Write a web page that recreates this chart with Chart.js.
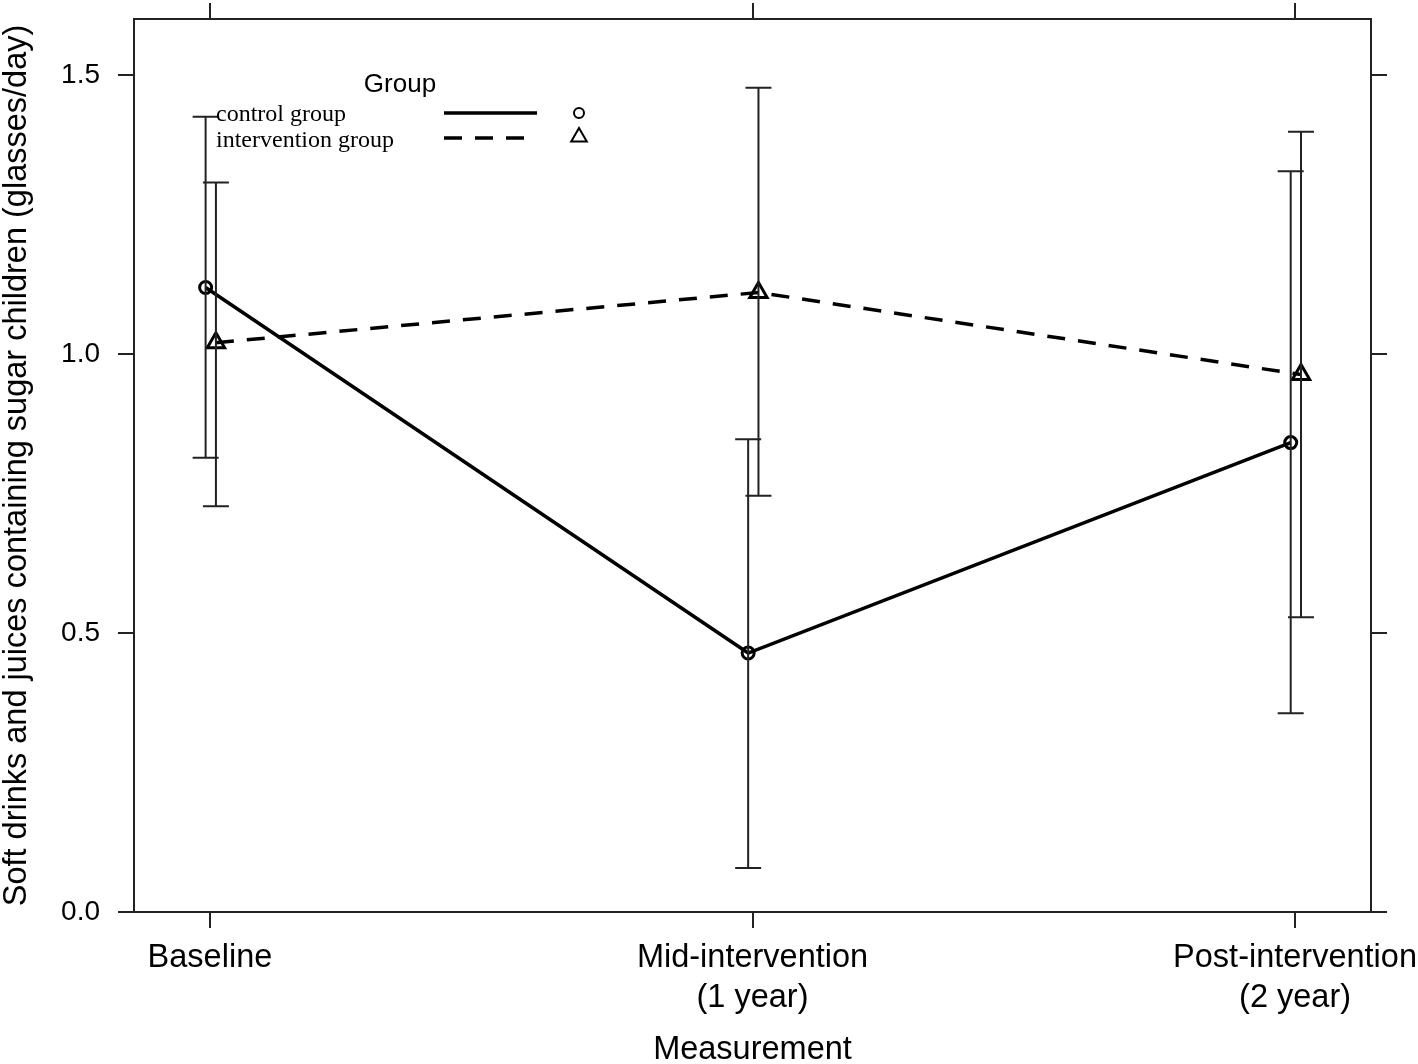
<!DOCTYPE html>
<html>
<head>
<meta charset="utf-8">
<script src="https://cdn.jsdelivr.net/npm/chart.js"></script>
<style>
  body { margin: 0; background: #fff; }
</style>
</head>
<body>
<canvas id="chartMeans" width="1418" height="1064"></canvas>
<script>
// data
const categories = [["Baseline"], ["Mid-intervention", "(1 year)"], ["Post-intervention", "(2 year)"]];
const catPos = [1, 2, 3];
const yTicks = [0, 0.5, 1.0, 1.5];

const controlMean = [1.119, 0.464, 0.841];
const controlUpper = [1.425, 0.847, 1.327];
const controlLower = [0.814, 0.079, 0.356];

const interventionMean = [1.020, 1.110, 0.963];
const interventionUpper = [1.307, 1.477, 1.398];
const interventionLower = [0.727, 0.746, 0.528];

// small horizontal dodge so the bars don't overlap
const controlShift = -0.008;
const interventionShift = 0.011;

const ink = "#222";
const sans = "'Liberation Sans', Arial, sans-serif";
const serif = "'Liberation Serif', 'Times New Roman', serif";

function pts(means, shift) {
  return means.map((v, i) => ({ x: catPos[i] + shift, y: v }));
}

const groups = [
  { mean: controlMean, up: controlUpper, low: controlLower, shift: controlShift },
  { mean: interventionMean, up: interventionUpper, low: interventionLower, shift: interventionShift },
];

// error bars
const errorBars = {
  id: "errorBars",
  afterDatasetsDraw(chart) {
    const ctx = chart.ctx;
    const xs = chart.scales.x, ys = chart.scales.y;
    ctx.save();
    ctx.strokeStyle = ink;
    ctx.lineWidth = 2;
    groups.forEach(g => {
      g.mean.forEach((m, i) => {
        const x = xs.getPixelForValue(catPos[i] + g.shift);
        const top = ys.getPixelForValue(g.up[i]);
        const bot = ys.getPixelForValue(g.low[i]);
        ctx.beginPath();
        ctx.moveTo(x, top); ctx.lineTo(x, bot);
        ctx.moveTo(x - 13, top); ctx.lineTo(x + 13, top);
        ctx.moveTo(x - 13, bot); ctx.lineTo(x + 13, bot);
        ctx.stroke();
      });
    });
    ctx.restore();
  }
};

// lattice style key in the top left corner
const groupKey = {
  id: "groupKey",
  afterDraw(chart) {
    const ctx = chart.ctx;
    ctx.save();
    ctx.fillStyle = "#000";
    ctx.font = "26px " + sans;
    ctx.textAlign = "center";
    ctx.textBaseline = "alphabetic";
    ctx.fillText("Group", 400, 92);

    ctx.font = "24px " + serif;
    ctx.textAlign = "left";
    ctx.fillText("control group", 216, 121);
    ctx.fillText("intervention group", 216, 147);

    ctx.strokeStyle = "#000";
    ctx.lineWidth = 3.5;
    ctx.beginPath();
    ctx.moveTo(444, 113); ctx.lineTo(537, 113);
    ctx.stroke();
    ctx.setLineDash([18, 13]);
    ctx.beginPath();
    ctx.moveTo(444, 138); ctx.lineTo(528, 138);
    ctx.stroke();
    ctx.setLineDash([]);

    ctx.lineWidth = 2;
    ctx.beginPath();
    ctx.arc(579, 113, 5, 0, Math.PI * 2);
    ctx.stroke();
    const r = 9;
    ctx.beginPath();
    ctx.moveTo(579, 137 - r);
    ctx.lineTo(579 + r * 0.866, 137 + r / 2);
    ctx.lineTo(579 - r * 0.866, 137 + r / 2);
    ctx.closePath();
    ctx.stroke();
    ctx.restore();
  }
};

const axisGrid = { drawOnChartArea: false, drawTicks: true, tickLength: 16, color: ink, lineWidth: 2 };
const axisBorder = { display: true, color: ink, width: 2 };

// pin the panel to the same spot as the original figure
function fixBox(prop, size) {
  return s => {
    s[prop] = size;
    s.paddingTop = 0; s.paddingBottom = 0;
    s.paddingLeft = 0; s.paddingRight = 0;
  };
}

const config = {
  type: "line",
  data: {
    datasets: [
      {
        label: "control group",
        data: pts(controlMean, controlShift),
        borderColor: "#000",
        borderWidth: 3.5,
        pointStyle: "circle",
        pointRadius: 6,
        pointBorderWidth: 3,
        pointBorderColor: "#000",
        pointBackgroundColor: "rgba(0,0,0,0)",
        tension: 0,
      },
      {
        label: "intervention group",
        data: pts(interventionMean, interventionShift),
        borderColor: "#000",
        borderWidth: 3.5,
        borderDash: [18, 13],
        pointStyle: "triangle",
        pointRadius: 10,
        pointBorderWidth: 3,
        pointBorderColor: "#000",
        pointBackgroundColor: "rgba(0,0,0,0)",
        tension: 0,
      },
    ],
  },
  options: {
    responsive: false,
    animation: false,
    layout: { padding: 0 },
    plugins: { legend: { display: false }, tooltip: { enabled: false } },
    scales: {
      x: {
        type: "linear",
        position: "bottom",
        min: 0.86,
        max: 3.14,
        afterBuildTicks: s => { s.ticks = catPos.map(v => ({ value: v })); },
        afterFit: fixBox("height", 152),
        grid: axisGrid,
        border: axisBorder,
        ticks: {
          autoSkip: false,
          maxRotation: 0,
          padding: 10,
          color: "#000",
          font: { family: sans, size: 32.5, lineHeight: 1.23 },
          callback: (v, i) => categories[i],
        },
        title: {
          display: true,
          text: "Measurement",
          color: "#000",
          padding: { top: 0, bottom: 0 },
          font: { family: sans, size: 32.5, lineHeight: 0.85 },
        },
      },
      xTop: {
        type: "linear",
        position: "top",
        min: 0.86,
        max: 3.14,
        afterBuildTicks: s => { s.ticks = catPos.map(v => ({ value: v })); },
        afterFit: fixBox("height", 19),
        grid: axisGrid,
        border: axisBorder,
        ticks: { display: false },
      },
      y: {
        position: "left",
        min: 0,
        max: 1.6,
        afterBuildTicks: s => { s.ticks = yTicks.map(v => ({ value: v })); },
        afterFit: fixBox("width", 134),
        grid: axisGrid,
        border: axisBorder,
        ticks: {
          padding: 18,
          color: "#000",
          font: { family: sans, size: 28 },
          callback: v => Number(v).toFixed(1),
        },
        title: {
          display: true,
          text: "Soft drinks and juices containing sugar children (glasses/day)",
          color: "#000",
          padding: { top: 0, bottom: 0 },
          font: { family: sans, size: 32.5, lineHeight: 1.05 },
        },
      },
      yRight: {
        position: "right",
        min: 0,
        max: 1.6,
        afterBuildTicks: s => { s.ticks = yTicks.map(v => ({ value: v })); },
        afterFit: fixBox("width", 47),
        grid: axisGrid,
        border: axisBorder,
        ticks: { display: false },
      },
    },
  },
  plugins: [errorBars, groupKey],
};

// render
const meansChart = new Chart(document.getElementById("chartMeans"), config);
</script>
</body>
</html>
